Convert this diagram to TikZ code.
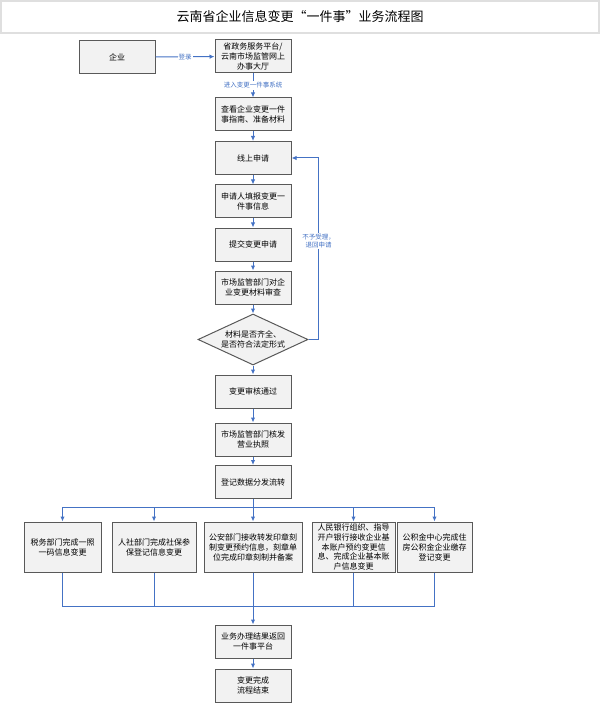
\documentclass[tikz,border=0pt]{standalone}
\usepackage{fontspec}
\setmainfont{Noto Sans CJK SC}
\usetikzlibrary{arrows.meta}
\usetikzlibrary{shapes.geometric}
\definecolor{flowblue}{HTML}{4472C4}
\definecolor{boxgray}{HTML}{F2F2F2}
\definecolor{edgegray}{HTML}{595959}

\begin{document}
\begin{tikzpicture}[x=1pt,y=-1pt,
  every node/.style={font=\fontsize{8}{10}\selectfont,align=center,inner sep=1pt},
  box/.style={draw=edgegray,fill=boxgray,line width=1pt,minimum width=76pt,minimum height=33pt},
  link/.style={draw=flowblue,line width=1pt},
  go/.style={link,-{Latex[length=5pt,width=4.5pt]}},
  lab/.style={fill=white,text=flowblue,font=\fontsize{6.5}{8}\selectfont,inner sep=1pt}]
  \useasboundingbox (0,0) rectangle (600,703);
  \node[draw=gray!25,line width=1.5pt,minimum width=598pt,minimum height=32pt,font=\fontsize{13}{15}\selectfont] (title) at (300,17) {云南省企业信息变更“一件事”业务流程图};
  % main column
  \node[box] (qy) at (117,57) {企业};
  \node[box] (pt) at (253,56.5) {省政务服务平台/\\云南市场监管网上\\办事大厅};
  \node[box] (guide) at (253,114.5) {查看企业变更一件\\事指南、准备材料};
  \node[box] (apply) at (253,158) {线上申请};
  \node[box] (fill) at (253,201.5) {申请人填报变更一\\件事信息};
  \node[box] (submit) at (253,244.5) {提交变更申请};
  \node[box] (review) at (253,287.5) {市场监管部门对企\\业变更材料审查};
  \node[box,diamond,aspect=2.15,inner sep=0pt,minimum width=110pt,minimum height=51pt] (chk) at (253,339.5) {材料是否齐全、\\是否符合法定形式};
  \node[box] (pass) at (253,391.5) {变更审核通过};
  \node[box] (lic) at (253,439.5) {市场监管部门核发\\营业执照};
  \node[box] (reg) at (253,482) {登记数据分发流转};
  % departments
  \node[box,minimum width=77pt,minimum height=50pt] (tax) at (62.5,547) {税务部门完成一照\\一码信息变更};
  \node[box,minimum width=84pt,minimum height=50pt] (hr) at (154,547) {人社部门完成社保参\\保登记信息变更};
  \node[box,minimum width=98pt,minimum height=50pt] (police) at (253,547) {公安部门接收转发印章刻\\制变更预约信息，刻章单\\位完成印章刻制并备案};
  \node[box,minimum width=83pt,minimum height=50pt,font=\fontsize{8}{9.6}\selectfont] (bank) at (353.5,547) {人民银行组织、指导\\开户银行接收企业基\\本账户预约变更信\\息、完成企业基本账\\户信息变更};
  \node[box,minimum width=75pt,minimum height=50pt] (fund) at (434.5,547) {公积金中心完成住\\房公积金企业缴存\\登记变更};
  \node[box] (ret) at (253,641.5) {业务办理结果返回\\一件事平台};
  \node[box] (done) at (253,685.5) {变更完成\\流程结束};
  \coordinate (split) at (253,507);
  \coordinate (merge) at (253,606);
  % connectors
  \draw[go] (qy) -- node[lab] {登录} (pt);
  \draw[go] (pt) -- node[lab] {进入变更一件事系统} (guide);
  \draw[go] (guide) -- (apply);
  \draw[go] (apply) -- (fill);
  \draw[go] (fill) -- (submit);
  \draw[go] (submit) -- (review);
  \draw[go] (review) -- (chk);
  \draw[go] (chk) -- (pass);
  \draw[go] (chk.east) -- ++(10,0) |- node[lab,pos=0.27] {不予受理，\\退回申请} (apply.east);
  \draw[go] (pass) -- (lic);
  \draw[go] (lic) -- (reg);
  \draw[link] (reg) -- (split);
  \foreach \d in {tax,hr,bank,fund}
    \draw[go] (split) -| (\d);
  \draw[go] (split) -- (police);
  \foreach \d in {tax,hr,police,bank,fund}
    \draw[link] (\d) |- (merge);
  \draw[go] (merge) -- (ret);
  \draw[go] (ret) -- (done);
\end{tikzpicture}
\end{document}
